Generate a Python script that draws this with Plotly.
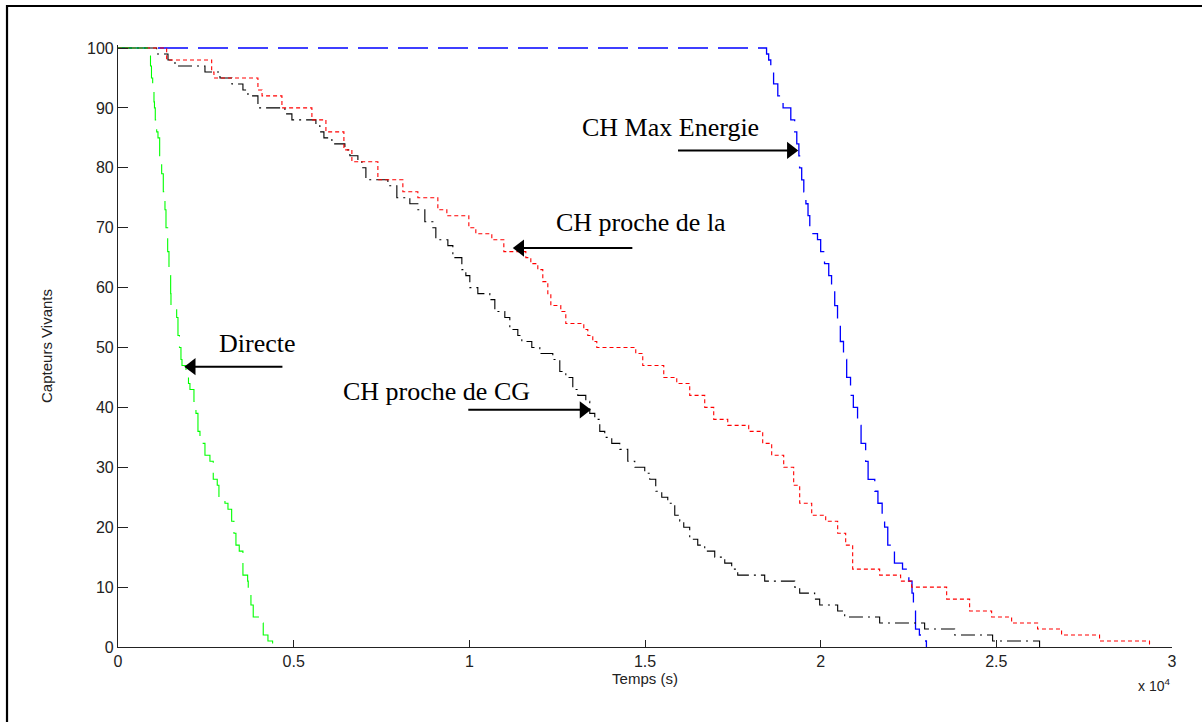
import plotly.graph_objects as go

# ---- data (time in seconds, number of live sensors) ----
directe_t = [0, 868, 925, 953, 987, 1024, 1038, 1061, 1101, 1138, 1186, 1243, 1289, 1337, 1366, 1414,
             1451, 1499, 1508, 1670, 1707, 1750, 1792, 1821, 1935, 2006, 2048, 2162, 2219, 2276, 2333,
             2475, 2617, 2711, 2825, 2873, 3044, 3130, 3235, 3300, 3357, 3451, 3556, 3690, 3707, 3784,
             3849, 4020, 4134, 4268, 4401]
directe_n = [100, 99, 97, 95, 93, 91, 90, 88, 86, 85, 82, 79, 76, 73, 70, 66,
             62, 59, 57, 55, 52, 50, 48, 47, 46, 44, 43, 41, 39, 36, 34,
             32, 31, 28, 27, 25, 24, 23, 21, 19, 17, 16, 12, 11, 9, 7,
             5, 4, 2, 1, 0]

maxen_t = [0, 18460, 18520, 18580, 18660, 18780, 18930, 19150, 19260, 19320, 19380, 19400, 19460,
           19520, 19580, 19640, 19690, 19780, 19910, 20000, 20110, 20230, 20310, 20400, 20480, 20560,
           20650, 20740, 20850, 20930, 21050, 21150, 21280, 21350, 21540, 21630, 21750, 21820, 21910,
           22040, 22100, 22330, 22510, 22600, 22640, 22700, 22810, 22960, 23010]
maxen_n = [100, 99, 98, 96, 94, 92, 90, 88, 86, 84, 82, 80, 78,
           76, 74, 72, 70, 69, 68, 66, 64, 62, 60, 57, 54, 51,
           48, 45, 42, 40, 37, 34, 31, 28, 26, 24, 22, 20, 17,
           16, 14, 13, 11, 9, 6, 3, 2, 1, 0]

prochela_t = [0, 1385, 2666, 2731, 3983, 4100, 4666, 5519, 5918, 6430, 6657, 7397, 8108, 8535, 9104,
              9360, 9986, 10185, 10640, 10982, 11608, 11750, 11949, 12091, 12234, 12320, 12603, 12746,
              13258, 13372, 13514, 13628, 14737, 14936, 15534, 15904, 16273, 16700, 16956, 17355,
              17952, 18350, 18606, 18948, 19232, 19403, 19745, 20143, 20484, 20712, 20911, 21679,
              22276, 22590, 23586, 24240, 24866, 25435, 26174, 26857, 27938, 29360]
prochela_n = [100, 98, 96, 95, 93, 92, 90, 88, 86, 83, 81, 78, 76, 75, 73,
              72, 70, 69, 68, 66, 65, 64, 63, 61, 59, 57, 56, 54,
              53, 52, 51, 50, 49, 47, 45, 44, 42, 40, 38, 37,
              36, 34, 32, 30, 27, 24, 22, 21, 19, 17, 13, 12,
              11, 10, 8, 6, 5, 4, 3, 2, 1, 0]

prochecg_t = [0, 1101, 1423, 1622, 2475, 2902, 3243, 3556, 3699, 3983, 4751, 4950, 5633, 5747, 5861,
              6088, 6458, 6600, 6828, 6942, 7056, 7682, 7937, 8307, 8535, 8734, 8962, 9047, 9389,
              9531, 9787, 9901, 10014, 10242, 10583, 10726, 11010, 11152, 11380, 11494, 11778,
              12006, 12376, 12575, 12746, 12945, 13087, 13315, 13428, 13571, 13713, 13855, 14054,
              14282, 14510, 14709, 14993, 15135, 15306, 15477, 15648, 15847, 15989, 16103, 16273,
              16501, 16700, 16985, 17270, 17468, 17639, 18407, 19261, 19403, 19830, 19972, 20484,
              20684, 21679, 22959, 23813, 24894, 26231]
prochecg_n = [100, 99, 98, 97, 96, 95, 94, 93, 92, 90, 89, 88, 87, 86, 85,
              84, 83, 82, 81, 80, 78, 77, 75, 74, 73, 71, 70, 68, 67,
              65, 63, 62, 60, 59, 58, 56, 55, 53, 52, 51, 50,
              49, 48, 46, 45, 43, 42, 41, 39, 38, 36, 35, 34,
              33, 31, 30, 29, 28, 26, 25, 24, 22, 21, 20, 18,
              17, 16, 15, 14, 13, 12, 11, 10, 9, 8, 7, 6,
              5, 4, 3, 2, 1, 0]

x_tickvals = [0, 5000, 10000, 15000, 20000, 25000, 30000]
x_ticktext = ["0", "0.5", "1", "1.5", "2", "2.5", "3"]
y_tickvals = [0, 10, 20, 30, 40, 50, 60, 70, 80, 90, 100]

# annotation labels: text, text position, arrow tail x, arrow tip x, arrow y
label_text = ["Directe", "CH proche de la", "CH proche de CG", "CH Max Energie"]
label_x = [3983, 14899, 9061, 15733]
label_y = [50.7, 70.8, 42.7, 86.7]
arrow_tail_x = [4680, 14640, 9970, 15940]
arrow_tip_x = [2100, 11450, 13250, 19150]
arrow_y = [46.8, 66.6, 39.6, 82.9]

fig = go.Figure()
fig.add_trace(go.Scatter(x=maxen_t, y=maxen_n, mode="lines", line_shape="hv",
                         line=dict(color="#0000FF", width=1.3, dash="30px,10px"), name="CH Max Energie"))
fig.add_trace(go.Scatter(x=prochecg_t, y=prochecg_n, mode="lines", line_shape="hv",
                         line=dict(color="#000000", width=1.1, dash="14px,5px,2px,5px"), name="CH proche de CG"))
fig.add_trace(go.Scatter(x=prochela_t, y=prochela_n, mode="lines", line_shape="hv",
                         line=dict(color="#FF0000", width=1.1, dash="4px,3px"), name="CH proche de la"))
fig.add_trace(go.Scatter(x=directe_t, y=directe_n, mode="lines", line_shape="hv",
                         line=dict(color="#00FF00", width=1.1, dash="30px,10px"), name="Directe"))

serif = dict(family="Liberation Serif, Times New Roman, serif", size=26, color="black")
for i in range(len(label_text)):
    fig.add_annotation(x=label_x[i], y=label_y[i], xref="x", yref="y", text=label_text[i],
                       showarrow=False, font=serif, xanchor="center", yanchor="middle")
    pointing_left = arrow_tip_x[i] < arrow_tail_x[i]
    fig.add_trace(go.Scatter(x=[arrow_tail_x[i], arrow_tip_x[i]], y=[arrow_y[i], arrow_y[i]],
                             mode="lines", line=dict(color="black", width=2), hoverinfo="skip"))
    fig.add_trace(go.Scatter(x=[arrow_tip_x[i]], y=[arrow_y[i]], mode="markers", hoverinfo="skip",
                             marker=dict(symbol="triangle-left" if pointing_left else "triangle-right",
                                         size=15, color="black", line=dict(width=0))))

fig.add_annotation(x=1.0, y=-0.045, xref="paper", yref="paper", text="x 10<sup>4</sup>",
                   showarrow=False, xanchor="right", yanchor="top",
                   font=dict(family="Liberation Sans, Arial", size=14, color="#222"))

# outer frame (extends past the right and bottom edges)
fig.add_shape(type="rect", xref="paper", yref="paper", x0=-0.1053, x1=1.15, y0=-0.3, y1=1.0648,
              line=dict(color="black", width=2.2), fillcolor="rgba(0,0,0,0)", layer="above")

axis_font = dict(family="Liberation Sans, Arial", size=16, color="#222")
title_font = dict(family="Liberation Sans, Arial", size=15, color="#222")
fig.update_layout(
    width=1202, height=722,
    margin=dict(l=118, r=30, t=45, b=75, autoexpand=False),
    paper_bgcolor="white", plot_bgcolor="white",
    showlegend=False,
    xaxis=dict(range=[0, 30000], tickvals=x_tickvals, ticktext=x_ticktext, automargin=False,
               showgrid=False, zeroline=False, showline=True, linecolor="#222", linewidth=1.2,
               ticks="inside", ticklen=7, tickcolor="#222", tickwidth=1.2,
               tickfont=axis_font, title=dict(text="Temps (s)", font=title_font, standoff=2)),
    yaxis=dict(range=[0, 100.5], tickvals=y_tickvals, automargin=False,
               showgrid=False, zeroline=False, showline=True, linecolor="#222", linewidth=1.2,
               ticks="inside", ticklen=10, tickcolor="#222", tickwidth=1.2,
               tickfont=axis_font, title=dict(text="Capteurs Vivants", font=title_font, standoff=30)),
)

fig.write_html("out.html", config={"displayModeBar": False},
               post_script="document.body.style.margin='0';document.body.style.overflow='hidden';")
